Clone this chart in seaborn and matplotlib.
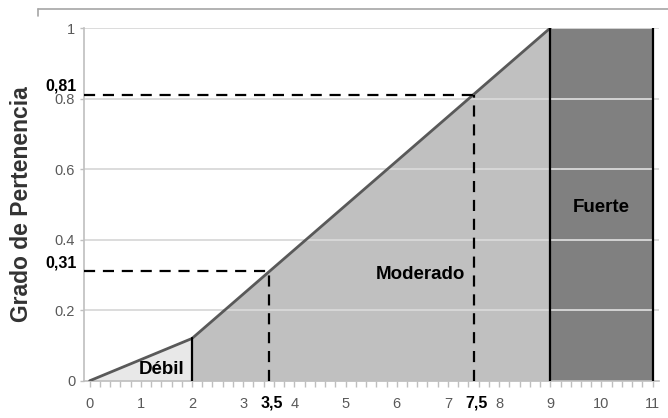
import matplotlib
matplotlib.use("Agg")
import matplotlib.pyplot as plt
import seaborn as sns
import numpy as np
from matplotlib.ticker import MultipleLocator
from matplotlib.lines import Line2D

# Datos de la función de pertenencia
curve_x = [0, 2, 9]
curve_y = [0, 0.12, 1]
weak_end = 2
strong_x = [9, 11]
cut_x = [3.5, 7.5]
cut_y = [0.31, 0.81]
cut_labels = ["3,5", "7,5"]
cut_y_labels = ["0,31", "0,81"]
y_ticks = [0, 0.2, 0.4, 0.6, 0.8, 1]
y_tick_labels = ["0", "0.2", "0.4", "0.6", "0.8", "1"]
x_ticks = list(range(0, 12))
region_names = ["Débil", "Moderado", "Fuerte"]

sns.set_theme(style="white")
plt.rcParams['font.family'] = ['Liberation Sans', 'DejaVu Sans']

fig = plt.figure(figsize=(6.68, 4.18), dpi=100)
ax = fig.add_axes([0.125, 0.089, 0.862, 0.844])

# Rellenos de las regiones
xs_weak = np.array(curve_x[:2], dtype=float)
ys_weak = np.array(curve_y[:2], dtype=float)
ax.fill_between(xs_weak, 0, ys_weak, color='#e8e8e8', zorder=1, lw=0)
ax.fill_between(curve_x[1:], 0, curve_y[1:], color='#c0c0c0', zorder=1, lw=0)
ax.fill_between(strong_x, 0, curve_y[-1], color='#808080', zorder=1, lw=0)

# Rejilla horizontal
for yv in y_ticks[1:]:
    ax.axhline(yv, color='#d9d9d9', lw=1.3, zorder=2)

# Curva
sns.lineplot(x=curve_x, y=curve_y, color='#595959', lw=2, ax=ax, zorder=4)

# Líneas verticales de separación
ax.plot([weak_end, weak_end], [0, curve_y[1]], color='black', lw=1.6, zorder=5)
for xv in strong_x:
    ax.plot([xv, xv], [0, curve_y[-1]], color='black', lw=1.6, zorder=5)

# Líneas de corte
xmin = -0.12
for cx, cy in zip(cut_x, cut_y):
    ax.plot([xmin, cx], [cy, cy], color='black', lw=1.6, ls=(0, (5, 3.5)),
            zorder=6, clip_on=False)
    ax.plot([cx, cx], [0, cy], color='black', lw=1.6, ls=(0, (5, 3.5)),
            zorder=6)

ax.set_xlim(xmin, 11.13)
ax.set_ylim(0, 1)
ax.set_xticks(x_ticks)
ax.set_xticklabels([str(v) for v in x_ticks])
ax.xaxis.set_minor_locator(MultipleLocator(0.2))
ax.set_yticks(y_ticks)
ax.set_yticklabels(y_tick_labels)
ax.tick_params(axis='x', which='both', direction='out', length=4, width=1,
               color='#bfbfbf', bottom=True, labelsize=10.5, labelcolor='#595959', pad=8)
ax.tick_params(axis='y', which='both', direction='out', length=3, width=1,
               color='#bfbfbf', left=True, labelsize=10.5, labelcolor='#595959', pad=3)

for s in ['top', 'right']:
    ax.spines[s].set_visible(False)
for s in ['left', 'bottom']:
    ax.spines[s].set_color('#bfbfbf')
    ax.spines[s].set_linewidth(1.2)

# Etiquetas de corte
for cx, lab in zip(cut_x, cut_labels):
    ax.text(cx + 0.05, -0.062, lab, ha='center', va='center', fontsize=11.5,
            fontweight='bold', color='black', clip_on=False)
for cy, lab in zip(cut_y, cut_y_labels):
    ax.text(-0.25, cy + 0.003, lab, ha='right', va='bottom', fontsize=11.5,
            fontweight='bold', color='black', clip_on=False)

# Nombres de las regiones
ax.text(1.41, 0.033, region_names[0], ha='center', va='center', fontsize=13.5,
        fontweight='bold', color='black', zorder=7)
ax.text(6.46, 0.30, region_names[1], ha='center', va='center', fontsize=13.5,
        fontweight='bold', color='black', zorder=7)
ax.text(10.0, 0.49, region_names[2], ha='center', va='center', fontsize=13.5,
        fontweight='bold', color='black', zorder=7)

ax.set_ylabel("Grado de Pertenencia", fontsize=16.5, fontweight='bold',
              color='#333333')
ax.yaxis.set_label_coords(-0.087, 0.5)

# Marco superior
fig.add_artist(Line2D([38 / 668, 1], [1 - 9 / 418, 1 - 9 / 418],
                      color='#a6a6a6', lw=1.2, transform=fig.transFigure))
fig.add_artist(Line2D([38 / 668, 38 / 668], [1 - 9 / 418, 1 - 16 / 418],
                      color='#a6a6a6', lw=1.2, transform=fig.transFigure))

fig.savefig("out.png", dpi=100)
